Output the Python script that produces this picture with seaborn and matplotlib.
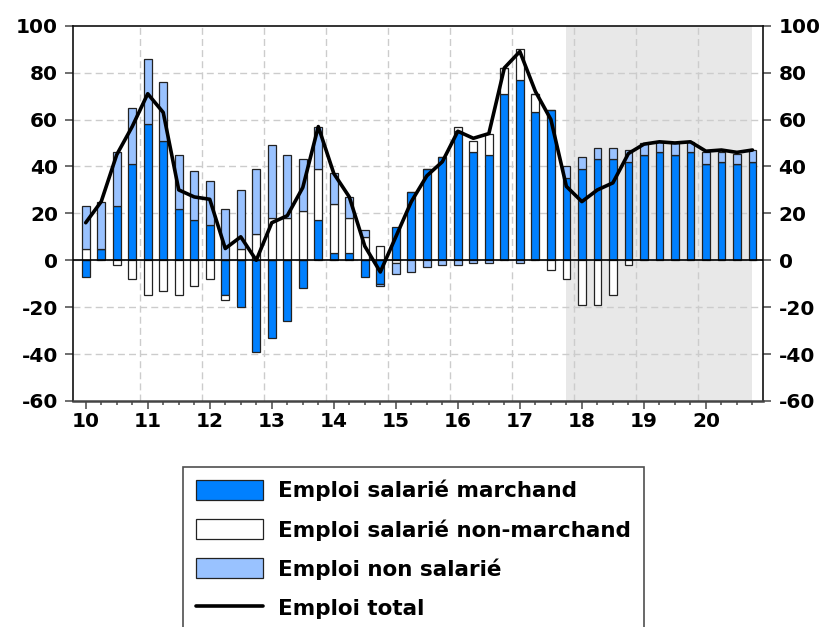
import matplotlib
matplotlib.use("Agg")
import matplotlib.pyplot as plt
import numpy as np
import pandas as pd
import seaborn as sns
from matplotlib.patches import Patch
from matplotlib.lines import Line2D

# quarterly contributions, 2010Q1 .. 2020Q4
year_labels = ["10", "11", "12", "13", "14", "15", "16", "17", "18", "19", "20"]
marchand = [-7, 5, 23, 41, 58, 51, 22, 17, 15, -15, -20, -39, -33, -26, -12, 17,
            3, 3, -7, -10, 14, 29, 39, 44, 55, 46, 45, 71, 77, 63, 64, 35,
            39, 43, 43, 42, 45, 46, 45, 46, 41, 42, 41, 42]
non_marchand = [5, 0, -2, -8, -15, -13, -15, -11, -8, -2, 5, 11, 18, 18, 21, 22,
                21, 15, 10, 6, -1, 0, 0, 0, 2, 5, 9, 11, 13, 8, -4, -8,
                -19, -19, -15, -2, 0, 0, 0, 0, 0, 0, 0, 0]
non_salarie = [18, 20, 23, 24, 28, 25, 23, 21, 19, 22, 25, 28, 31, 27, 22, 18,
               13, 9, 3, -1, -5, -5, -3, -2, -2, -1, -1, 0, -1, 0, 0, 5,
               5, 5, 5, 5, 5, 4.5, 5, 4.5, 5, 4, 4.5, 5]
total = [16, 25, 45, 57, 71, 63, 30, 27, 26, 5, 10, 0, 16, 19, 31, 57,
         37, 27, 6, -5, 10, 25, 36, 42, 55, 52, 54, 82, 89, 72, 60, 31.5,
         25, 30, 33, 45.5, 49.5, 50.5, 50, 50.5, 46.5, 47, 46, 47]
forecast_start = 31  # 2017Q4

df = pd.DataFrame({"q": np.arange(len(total)), "total": total})

sns.set_theme(style="white")
plt.rcParams["font.family"] = ["DejaVu Sans"]
plt.rcParams["font.weight"] = "bold"
plt.rcParams["text.color"] = "black"
plt.rcParams["xtick.labelcolor"] = "black"
plt.rcParams["ytick.labelcolor"] = "black"
plt.rcParams["axes.unicode_minus"] = False

fig = plt.figure(figsize=(8.25, 6.27), dpi=100)
ax = fig.add_axes([73.3 / 825, 1 - 401 / 627, (763.3 - 73.3) / 825, (401 - 25.7) / 627])

ax.axvspan(forecast_start, len(total) - 1, color="#e8e8e8", lw=0, zorder=0)

pos = np.zeros(len(total))
neg = np.zeros(len(total))
series = [(marchand, "#0080ff", "Emploi salarié marchand"),
          (non_marchand, "#ffffff", "Emploi salarié non-marchand"),
          (non_salarie, "#99c2ff", "Emploi non salarié")]
for vals, col, lab in series:
    v = np.array(vals, dtype=float)
    base = np.where(v >= 0, pos, neg)
    ax.bar(df["q"], v, bottom=base, width=0.5, color=col, edgecolor="#222222",
           linewidth=0.9, zorder=3)
    pos += np.clip(v, 0, None)
    neg += np.clip(v, None, 0)

ax.axhline(0, color="black", lw=1.2, zorder=4)
sns.lineplot(data=df, x="q", y="total", color="black", lw=2.6, ax=ax, zorder=5)

ax.set_xlim(-0.8, 43.7)
ax.set_ylim(-60, 100)
ax.set_yticks(np.arange(-60, 101, 20))
ax.set_xticks(np.arange(0, 44, 4))
ax.set_xticklabels(year_labels)
ax.set_xticks(np.arange(44), minor=True)
ax.set_xlabel("")
ax.set_ylabel("")

for y in range(-40, 100, 20):
    ax.axhline(y, color="#cccccc", lw=1, ls=(0, (5, 3)), zorder=1)
for x in np.arange(3.5, 43, 4):
    ax.axvline(x, color="#cccccc", lw=1, ls=(0, (5, 3)), zorder=1)

ax.tick_params(axis="y", which="both", left=True, right=True, labelleft=True,
               labelright=True, length=6, width=1.2, color="#555555",
               labelsize=14.5, pad=5)
ax.tick_params(axis="x", which="major", bottom=True, length=6, width=1.2,
               color="#555555", labelsize=14.5, pad=2)
ax.tick_params(axis="x", which="minor", bottom=True, length=3, width=1.2,
               color="#555555")
for lab in ax.get_xticklabels() + ax.get_yticklabels():
    lab.set_fontweight("bold")

for s in ["left", "right", "top"]:
    ax.spines[s].set_color("#111111")
    ax.spines[s].set_linewidth(1.2)
ax.spines["bottom"].set_color("#444444")
ax.spines["bottom"].set_linewidth(1.8)

handles = [Patch(facecolor=c, edgecolor="#222222", linewidth=0.9, label=l) for _, c, l in series]
handles.append(Line2D([0], [0], color="black", lw=2.6, label="Emploi total"))
leg = fig.legend(handles=handles, loc="upper left",
                 bbox_to_anchor=(183 / 825, 1 - 467 / 627), borderaxespad=0,
                 frameon=True, fancybox=False, edgecolor="#222222",
                 prop={"size": 15.5, "weight": "bold"}, handlelength=3.1,
                 handleheight=1.05, handletextpad=0.7, labelspacing=0.82,
                 borderpad=0.6)
leg.get_frame().set_linewidth(1.2)
for t in leg.get_texts():
    t.set_color("black")

fig.savefig("out.png", dpi=100)
